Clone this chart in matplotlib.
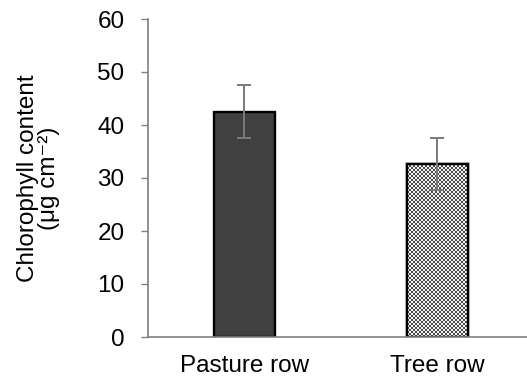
import numpy as np
import matplotlib
matplotlib.use("Agg")
import matplotlib.pyplot as plt
from matplotlib.colors import ListedColormap

categories = ["Pasture row", "Tree row"]
values = [42.5, 32.7]
errors = [5.0, 4.9]
yticks = [0, 10, 20, 30, 40, 50, 60]

plt.rcParams['font.family'] = ['Liberation Sans', 'DejaVu Sans']

fig = plt.figure(figsize=(5.27, 3.78), dpi=100)
ax = fig.add_axes([148/527, 1-337/378, 1-148/527, (337-19)/378])

x = np.arange(len(categories))
bars = ax.bar(x, values, width=0.32, color=['#404040', 'white'],
              edgecolor='black', linewidth=1.7, zorder=2)

# checkerboard fill for second bar
b = bars[1]
nx, ny = 31, 87
checker = (np.indices((ny, nx)).sum(axis=0) % 2).astype(float)
im = ax.imshow(checker, cmap=ListedColormap(['#4a4a4a', '#f4f4f4']), vmin=0, vmax=1,
               extent=(b.get_x(), b.get_x() + b.get_width(), 0, b.get_height()),
               interpolation='nearest', aspect='auto', zorder=2.1)
im.set_clip_path(b)
ax.bar([x[1]], [values[1]], width=0.32, facecolor='none', edgecolor='black',
       linewidth=1.7, zorder=2.2)

ax.errorbar(x, values, yerr=errors, fmt='none', ecolor='#7a7a7a',
            elinewidth=1.4, capsize=4.7, capthick=1.4, zorder=3)

ax.set_xlim(-0.5, 1.464)
ax.set_ylim(0, 60)
ax.set_yticks(yticks)
ax.set_xticks(x)
ax.set_xticklabels(categories, fontsize=17.5)
ax.tick_params(axis='y', labelsize=17.5, length=5, width=1, color='#808080', pad=12)
ax.tick_params(axis='x', length=0, pad=13)

for s in ['top', 'right']:
    ax.spines[s].set_visible(False)
for s in ['left', 'bottom']:
    ax.spines[s].set_color('#808080')
    ax.spines[s].set_linewidth(1.2)

ax.set_ylabel("Chlorophyll content\n(μg cm⁻²)", fontsize=17.5, labelpad=27, linespacing=0.95)

fig.savefig("out.png", dpi=100)
